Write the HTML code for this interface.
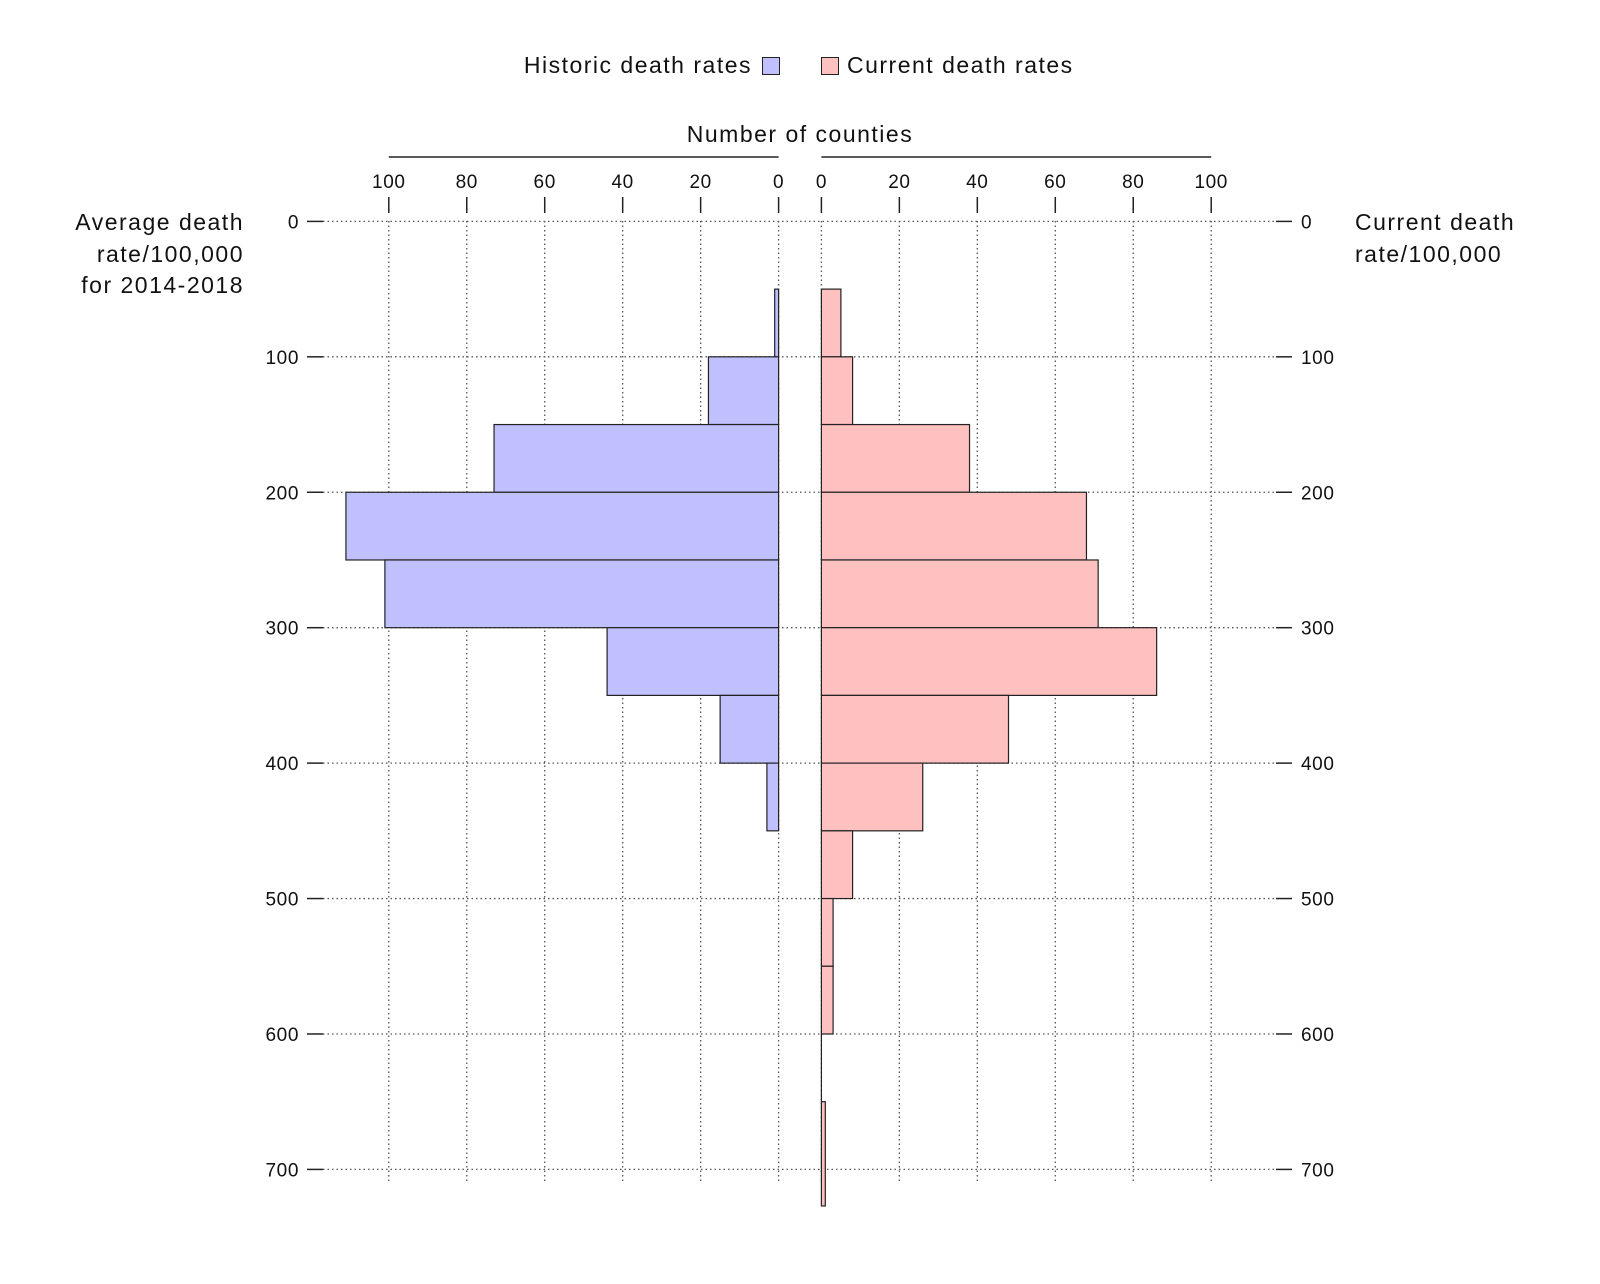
<!DOCTYPE html>
<html><head><meta charset="utf-8"><style>
html,body{margin:0;padding:0;background:#fff;}
svg text{font-family:"Liberation Sans",sans-serif;fill:#111;}
.big{letter-spacing:1.5px;}
.tick{letter-spacing:0.6px;}
</style></head><body>
<svg id="chart" width="1600" height="1279" xmlns="http://www.w3.org/2000/svg">
<g>
<text class="big" x="752" y="73" font-size="23" text-anchor="end">Historic death rates</text>
<rect x="762.5" y="57.5" width="17" height="17" fill="#c0c0ff" stroke="#222"/>
<rect x="821.5" y="57.5" width="17" height="17" fill="#ffc0c0" stroke="#222"/>
<text class="big" x="847" y="73" font-size="23">Current death rates</text>
</g>
<text class="big" x="800" y="142" font-size="23" text-anchor="middle">Number of counties</text>
<g class="big" font-size="23" text-anchor="end">
<text x="244" y="230">Average death</text><text x="244" y="262">rate/100,000</text><text x="244" y="293">for 2014-2018</text>
</g>
<g class="big" font-size="23">
<text x="1355" y="230">Current death</text><text x="1355" y="262">rate/100,000</text>
</g>
<g id="grid"></g><g id="bars"></g><g id="axes"></g>
</svg>
<script>
const binStarts=[50,100,150,200,250,300,350,400,450,500,550,600,650];
const binEnds=[100,150,200,250,300,350,400,450,500,550,600,650,727];
const historic=[1,18,73,111,101,44,15,3,0,0,0,0,0];
const current=[5,8,38,68,71,86,48,26,8,3,3,0,1];
const xTicks=[0,20,40,60,80,100];
const yTicks=[0,100,200,300,400,500,600,700];
const NS="http://www.w3.org/2000/svg";
const xL=v=>778.6-v*3.898, xR=v=>821.4+v*3.898, y=v=>221.4+v*1.3543;
function mk(p,tag,a){const e=document.createElementNS(NS,tag);for(const k in a)e.setAttribute(k,a[k]);p.appendChild(e);return e;}
const grid=document.getElementById('grid'),bars=document.getElementById('bars'),axes=document.getElementById('axes');
yTicks.forEach(t=>{
 const g=mk(grid,'line',{x1:323,x2:1275,y1:y(t),y2:y(t),stroke:'#555','stroke-width':1.3,'stroke-dasharray':'1.5 3'});
 
 
 const a=mk(axes,'line',{x1:307,x2:323,y1:y(t),y2:y(t),stroke:'#222','stroke-width':1.5});
 
 
 const b=mk(axes,'line',{x1:1276,x2:1292,y1:y(t),y2:y(t),stroke:'#222','stroke-width':1.5});
 
 
 const l=mk(axes,'text',{x:299,y:y(t)+7,'font-size':19,'text-anchor':'end','class':'tick'});l.textContent=t;
 
 
 const r=mk(axes,'text',{x:1301,y:y(t)+7,'font-size':19,'class':'tick'});r.textContent=t;
 
 
});
[['left',xL],['right',xR]].forEach(([s,f])=>{
 const ax=mk(axes,'line',{x1:f(0),x2:f(100),y1:157,y2:157,stroke:'#222','stroke-width':1.5});
 
 
 xTicks.forEach(t=>{
  const g=mk(grid,'line',{x1:f(t),x2:f(t),y1:221,y2:1184,stroke:'#555','stroke-width':1.3,'stroke-dasharray':'1.5 3'});
  
  
  const k=mk(axes,'line',{x1:f(t),x2:f(t),y1:197,y2:213,stroke:'#222','stroke-width':1.5});
  
  
  const l=mk(axes,'text',{x:f(t),y:188,'font-size':19,'text-anchor':'middle','class':'tick'});l.textContent=t;
  
  
 });
});
binStarts.forEach((s,i)=>{
 const y0=y(s),y1=y(binEnds[i]);
 if(historic[i]>0){
  const r=mk(bars,'rect',{x:xL(historic[i]),y:y0,width:xL(0)-xL(historic[i]),height:y1-y0,fill:'#c0c0ff',stroke:'#222','stroke-width':1.2});
  
  
 }
 if(current[i]>0){
  const r2=mk(bars,'rect',{x:xR(0),y:y0,width:xR(current[i])-xR(0),height:y1-y0,fill:'#ffc0c0',stroke:'#222','stroke-width':1.2});
  
  
 } else {
  const z=mk(bars,'line',{x1:xR(0),x2:xR(0),y1:y0,y2:y1,stroke:'#222','stroke-width':1.2});
  
  
 }
});
</script>
</body></html>
